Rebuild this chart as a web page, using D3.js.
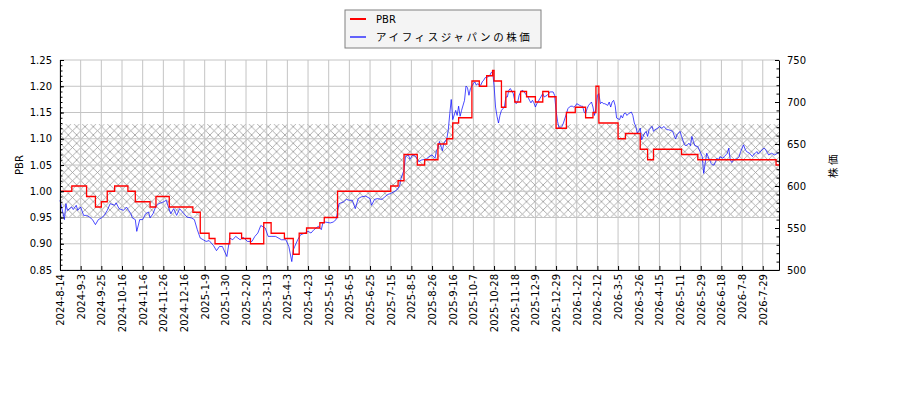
<!DOCTYPE html>
<html>
<head>
<meta charset="utf-8">
<script src="https://cdn.jsdelivr.net/npm/d3@7"></script>
<style>
  body { margin: 0; background: #fff; }
  text { font-family: "DejaVu Sans", sans-serif; font-size: 10px; fill: #000; }
  .jp { font-family: "Noto Sans CJK JP", sans-serif; font-size: 10.5px; letter-spacing: 2.6px; }
</style>
</head>
<body>
<svg id="chart"></svg>
<script>
// x tick labels, one every 14 trading days
const tickLabels = [
  "2024-8-14", "2024-9-3", "2024-9-25", "2024-10-16", "2024-11-6", "2024-11-26", "2024-12-16",
  "2025-1-9", "2025-1-30", "2025-2-20", "2025-3-13", "2025-4-3", "2025-4-23", "2025-5-16",
  "2025-6-5", "2025-6-25", "2025-7-15", "2025-8-5", "2025-8-26", "2025-9-16", "2025-10-7",
  "2025-10-28", "2025-11-18", "2025-12-9", "2025-12-29", "2026-1-22", "2026-2-12", "2026-3-5",
  "2026-3-26", "2026-4-15", "2026-5-11", "2026-5-29", "2026-6-18", "2026-7-8", "2026-7-29"
];
const tickStep = 14;
const lastDay = 487;

// PBR (step series): trading-day index where each value starts
const pbrDay = [0, 8, 18, 24, 28, 32, 37, 46, 51, 61, 65, 74, 90, 95, 101, 105, 115, 123, 129, 138,
  143, 152, 158, 162, 167, 176, 179, 188, 224, 229, 233, 242, 247, 256, 262, 266, 270, 279, 284, 289,
  293, 294, 299, 302, 308, 312, 316, 322, 327, 331, 336, 343, 349, 356, 361, 363, 365, 378, 383, 393,
  398, 402, 421, 432, 485];
const pbrValue = [1.00, 1.01, 0.99, 0.97, 0.98, 1.00, 1.01, 1.00, 0.98, 0.97, 0.99, 0.97, 0.96, 0.92, 0.91, 0.90, 0.92, 0.91, 0.90, 0.94,
  0.92, 0.91, 0.88, 0.92, 0.93, 0.94, 0.95, 1.00, 1.01, 1.02, 1.07, 1.05, 1.06, 1.09, 1.10, 1.13, 1.14, 1.21, 1.20, 1.22,
  1.23, 1.21, 1.16, 1.19, 1.17, 1.19, 1.18, 1.17, 1.19, 1.18, 1.12, 1.15, 1.16, 1.14, 1.15, 1.20, 1.13, 1.10, 1.11, 1.08,
  1.06, 1.08, 1.07, 1.06, 1.05];

// share price (yen)
const priceDay = [
  0, 3, 4, 5, 8, 9, 11, 12, 14, 16, 18, 20, 22, 24, 26, 28, 30, 32, 34, 37,
  38, 40, 43, 45, 48, 49, 51, 52, 54, 56, 58, 60, 61, 63, 65, 67, 70, 72, 73, 75,
  77, 79, 81, 83, 86, 89, 91, 93, 95, 97, 99, 101, 104, 106, 108, 110, 113, 115, 117, 119,
  122, 124, 127, 130, 132, 134, 136, 139, 141, 143, 146, 150, 153, 155, 157, 158, 159, 161, 163, 166,
  168, 170, 172, 175, 177, 178, 180, 183, 185, 187, 189, 192, 194, 196, 198, 200, 202, 204, 207, 210,
  211, 213, 215, 218, 220, 222, 224, 228, 230, 231, 233, 234, 236, 237, 239, 241, 243, 245, 248, 250,
  252, 254, 255, 256, 257, 259, 260, 262, 263, 264, 265, 266, 268, 269, 270, 271, 272, 274, 275, 276,
  277, 278, 280, 281, 282, 283, 284, 285, 286, 287, 288, 290, 291, 292, 293, 294, 295, 296, 297, 298,
  299, 301, 302, 303, 304, 305, 307, 308, 309, 310, 311, 312, 313, 314, 316, 317, 318, 319, 320, 321,
  322, 323, 325, 326, 327, 328, 329, 330, 331, 332, 334, 335, 336, 337, 338, 339, 340, 341, 343, 344,
  345, 346, 347, 348, 349, 350, 352, 353, 354, 355, 356, 357, 358, 360, 361, 362, 363, 364, 365, 366,
  367, 368, 369, 371, 372, 373, 374, 375, 376, 377, 379, 380, 381, 382, 383, 384, 385, 387, 388, 389,
  390, 391, 392, 393, 394, 396, 397, 398, 399, 400, 401, 402, 403, 405, 406, 407, 408, 409, 410, 411,
  412, 414, 415, 416, 417, 418, 419, 420, 421, 423, 424, 425, 426, 427, 428, 429, 430, 432, 433, 434,
  435, 436, 437, 438, 440, 441, 442, 443, 444, 445, 446, 447, 449, 450, 451, 452, 453, 454, 455, 456,
  458, 459, 460, 461, 462, 463, 464, 465, 467, 468, 469, 470, 471, 472, 473, 474, 476, 477, 478, 479,
  480, 481, 482, 484, 485, 486, 487];
const priceValue = [
  583, 560, 579, 571, 575, 572, 577, 571, 575, 565, 565, 563, 560, 554, 560, 562, 565, 571, 579, 577,
  580, 573, 571, 575, 567, 562, 560, 546, 560, 560, 567, 569, 562, 567, 576, 579, 581, 583, 577, 567,
  573, 565, 573, 569, 563, 562, 560, 548, 538, 536, 534, 535, 529, 523, 528, 528, 516, 538, 536, 540,
  536, 539, 534, 534, 540, 544, 553, 550, 540, 540, 540, 536, 536, 528, 510, 524, 528, 536, 542, 544,
  546, 544, 548, 552, 548, 556, 557, 556, 557, 560, 579, 581, 584, 583, 583, 573, 585, 587, 588, 585,
  577, 584, 585, 584, 587, 590, 591, 595, 600, 609, 619, 635, 637, 632, 637, 635, 629, 631, 632, 635,
  637, 633, 642, 645, 653, 642, 651, 656, 667, 686, 703, 679, 690, 684, 695, 683, 690, 702, 719, 717,
  708, 716, 722, 724, 720, 722, 720, 720, 724, 726, 729, 730, 731, 735, 736, 720, 694, 683, 675, 684,
  690, 694, 706, 706, 714, 716, 710, 702, 698, 700, 708, 712, 714, 713, 708, 706, 702, 699, 702, 699,
  694, 698, 704, 707, 710, 706, 707, 708, 710, 712, 712, 708, 690, 677, 669, 669, 671, 675, 686, 692,
  694, 695, 695, 694, 695, 698, 696, 695, 695, 688, 686, 692, 696, 700, 694, 684, 692, 708, 710, 698,
  700, 698, 698, 696, 700, 694, 700, 702, 696, 681, 679, 684, 681, 686, 687, 684, 686, 688, 684, 675,
  671, 663, 665, 669, 655, 663, 665, 659, 667, 669, 671, 665, 667, 669, 671, 669, 669, 671, 669, 667,
  667, 666, 665, 660, 656, 661, 663, 665, 659, 649, 648, 649, 651, 648, 659, 653, 648, 647, 643, 639,
  635, 615, 627, 639, 631, 627, 625, 625, 629, 633, 631, 635, 633, 635, 637, 639, 645, 631, 628, 631,
  632, 633, 635, 641, 645, 649, 644, 641, 639, 637, 635, 638, 639, 641, 638, 640, 644, 645, 643, 640,
  637, 638, 639, 637, 638, 639, 640];

// hatched PBR band
const bandLow = 0.95;
const bandHigh = 1.128;

const width = 900, height = 400;
const margin = {top: 60, right: 121, bottom: 130, left: 60};
const innerW = width - margin.left - margin.right;
const innerH = height - margin.top - margin.bottom;

const svg = d3.select("#chart").attr("width", width).attr("height", height);

const defs = svg.append("defs");
const hatch = defs.append("pattern")
  .attr("id", "hatch")
  .attr("patternUnits", "userSpaceOnUse")
  .attr("width", 8.33).attr("height", 8.33);
hatch.append("path")
  .attr("d", "M0,0L8.33,8.33M0,8.33L8.33,0")
  .attr("stroke", "#9a9a9a").attr("stroke-width", 0.8);

const chart = svg.append("g").attr("transform", `translate(${margin.left},${margin.top})`);

// scales
const x = d3.scaleLinear().domain([0, lastDay]).range([0, innerW]);
const yPbr = d3.scaleLinear().domain([0.85, 1.25]).range([innerH, 0]);
const yPrice = d3.scaleLinear().domain([500, 750]).range([innerH, 0]);

const xTicks = tickLabels.map((d, i) => i * tickStep);
const pbrTicks = d3.range(0.85, 1.2501, 0.05);

// hatched band
chart.append("rect")
  .attr("x", 0).attr("width", innerW)
  .attr("y", yPbr(bandHigh)).attr("height", yPbr(bandLow) - yPbr(bandHigh))
  .attr("fill", "url(#hatch)");

// grid
chart.append("g").selectAll("line").data(xTicks).join("line")
  .attr("x1", d => x(d)).attr("x2", d => x(d))
  .attr("y1", 0).attr("y2", innerH)
  .attr("stroke", "#c4c4c4").attr("stroke-width", 1);
chart.append("g").selectAll("line").data(pbrTicks).join("line")
  .attr("x1", 0).attr("x2", innerW)
  .attr("y1", d => yPbr(d)).attr("y2", d => yPbr(d))
  .attr("stroke", "#c4c4c4").attr("stroke-width", 1);

// share price line
const pricePts = priceDay.map((d, i) => [d, priceValue[i]]);
chart.append("path")
  .datum(pricePts)
  .attr("fill", "none")
  .attr("stroke", "blue").attr("stroke-opacity", 0.7)
  .attr("stroke-width", 1)
  .attr("d", d3.line().x(d => x(d[0])).y(d => yPrice(d[1])));

// PBR step line
const pbrPts = pbrDay.map((d, i) => [d, pbrValue[i]]);
pbrPts.push([lastDay, pbrValue[pbrValue.length - 1]]);
chart.append("path")
  .datum(pbrPts)
  .attr("fill", "none")
  .attr("stroke", "red")
  .attr("stroke-width", 1.3)
  .attr("d", d3.line().curve(d3.curveStepAfter).x(d => x(d[0])).y(d => yPbr(d[1])));

// axes (ticks point inward)
const xAxis = d3.axisBottom(x).tickValues(xTicks)
  .tickFormat((d, i) => tickLabels[i]).tickSize(-4).tickSizeOuter(0).tickPadding(4);
const xAxisG = chart.append("g").attr("transform", `translate(0,${innerH})`).call(xAxis);
xAxisG.selectAll("text")
  .attr("transform", "rotate(-90)")
  .attr("text-anchor", "end")
  .attr("x", -4).attr("y", 0).attr("dy", "0.35em");

const yLeftMinor = d3.axisLeft(yPbr).tickValues(d3.range(0.85, 1.2501, 0.01))
  .tickFormat("").tickSize(-2.5).tickSizeOuter(0);
chart.append("g").call(yLeftMinor).select(".domain").remove();
const yLeft = d3.axisLeft(yPbr).tickValues(pbrTicks)
  .tickFormat(d3.format(".2f")).tickSize(-4).tickSizeOuter(0).tickPadding(8);
chart.append("g").call(yLeft);

const yRightMinor = d3.axisRight(yPrice).tickValues(d3.range(500, 751, 10))
  .tickFormat("").tickSize(-2.5).tickSizeOuter(0);
chart.append("g").attr("transform", `translate(${innerW},0)`).call(yRightMinor).select(".domain").remove();
const yRight = d3.axisRight(yPrice).tickValues(d3.range(500, 751, 50))
  .tickSize(-4).tickSizeOuter(0).tickPadding(8);
chart.append("g").attr("transform", `translate(${innerW},0)`).call(yRight);

chart.selectAll(".tick text").style("font-size", "10px").style("font-family", "'DejaVu Sans', sans-serif");

// axis titles
svg.append("text")
  .attr("transform", `translate(23,${margin.top + innerH / 2}) rotate(-90)`)
  .attr("text-anchor", "middle")
  .text("PBR");
svg.append("text")
  .attr("class", "jp")
  .attr("transform", `translate(837,${margin.top + innerH / 2}) rotate(-90)`)
  .attr("text-anchor", "middle")
  .text("株価");

// legend
const legend = svg.append("g").attr("transform", "translate(345,10)");
legend.append("rect")
  .attr("width", 196).attr("height", 38)
  .attr("fill", "#f4f4f4").attr("stroke", "#808080").attr("stroke-width", 1);
const legendItems = [
  {label: "PBR", color: "red", opacity: 1, cls: ""},
  {label: "アイフィスジャパンの株価", color: "blue", opacity: 0.6, cls: "jp"}
];
legendItems.forEach((d, i) => {
  const yy = 9 + i * 18;
  legend.append("line")
    .attr("x1", 5).attr("x2", 21).attr("y1", yy).attr("y2", yy)
    .attr("stroke", d.color).attr("stroke-opacity", d.opacity).attr("stroke-width", 2);
  legend.append("text")
    .attr("class", d.cls)
    .attr("x", 31).attr("y", yy).attr("dy", "0.35em")
    .text(d.label);
});
</script>
</body>
</html>
